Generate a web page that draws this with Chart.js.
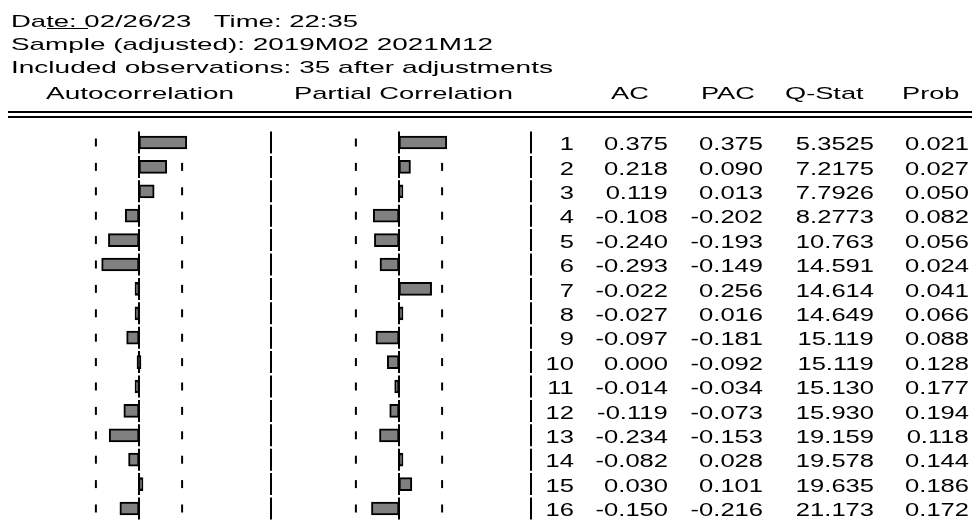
<!DOCTYPE html>
<html>
<head>
<meta charset="utf-8">
<script src="https://cdn.jsdelivr.net/npm/chart.js@4.4.0/dist/chart.umd.min.js"></script>
<style>
  body { margin: 0; background: #fff; }
  #wrap { position: relative; width: 972px; height: 524px; overflow: hidden; font-family: "Liberation Sans", Arial, sans-serif; color: #000; }
  #corr { position: absolute; left: 0; top: 0; }
  .hd, .colhd { position: absolute; font-size: 17px; line-height: 17px; white-space: pre; transform-origin: left center; }
  .cell { position: absolute; font-size: 18px; line-height: 18px; white-space: pre; transform-origin: right center; }
  .rule { position: absolute; left: 8px; width: 964px; top: 111px; height: 2.5px; border-top: 2px solid #000; border-bottom: 2px solid #000; }
  .uline { position: absolute; left: 47px; top: 28px; width: 41px; height: 1px; background: #000; }
</style>
</head>
<body>
<div id="wrap">
  <canvas id="corr" width="972" height="524"></canvas>
  <div class="hd" data-x="11" data-base="27" data-w="347">Date: 02/26/23   Time: 22:35</div>
  <div class="uline"></div>
  <div class="hd" data-x="11" data-base="50" data-w="482">Sample (adjusted): 2019M02 2021M12</div>
  <div class="hd" data-x="11" data-base="73.5" data-w="542">Included observations: 35 after adjustments</div>
  <div class="hd" data-x="46" data-base="99" data-w="188">Autocorrelation</div>
  <div class="hd" data-x="294" data-base="99" data-w="219">Partial Correlation</div>
  <div class="colhd" data-c="630" data-base="99">AC</div>
  <div class="colhd" data-c="728" data-base="99">PAC</div>
  <div class="colhd" data-c="824" data-base="99">Q-Stat</div>
  <div class="colhd" data-c="931" data-base="99">Prob</div>
  <div class="rule"></div>
</div>
<script>
var lags = [1, 2, 3, 4, 5, 6, 7, 8, 9, 10, 11, 12, 13, 14, 15, 16];
var acValues = [0.375, 0.218, 0.119, -0.108, -0.240, -0.293, -0.022, -0.027, -0.097, 0.000, -0.014, -0.119, -0.234, -0.082, 0.030, -0.150];
var pacValues = [0.375, 0.090, 0.013, -0.202, -0.193, -0.149, 0.256, 0.016, -0.181, -0.092, -0.034, -0.073, -0.153, 0.028, 0.101, -0.216];
var qStat = [5.3525, 7.2175, 7.7926, 8.2773, 10.763, 14.591, 14.614, 14.649, 15.119, 15.119, 15.130, 15.930, 19.159, 19.578, 19.635, 21.173];
var probValues = [0.021, 0.027, 0.050, 0.082, 0.056, 0.024, 0.041, 0.066, 0.088, 0.128, 0.177, 0.194, 0.118, 0.144, 0.186, 0.172];
var nObs = 35;

// layout
var W = 972;
var PX_PER_UNIT = 127.5;
var AC_ZERO = 139, PAC_ZERO = 399;
var SEPARATORS = [271, 531];
var bound = 2 / Math.sqrt(nObs);

// header text: stretch each line to the width it has in the EViews output
document.querySelectorAll('.hd').forEach(function(el){
	var natural = el.getBoundingClientRect().width;
	el.style.left = el.dataset.x + 'px';
	el.style.top = (parseFloat(el.dataset.base) - 14.4) + 'px';
	el.style.transform = 'scaleX(' + (parseFloat(el.dataset.w) / natural) + ')';
});
document.querySelectorAll('.colhd').forEach(function(el){
	var sx = 1.6;
	var w = el.getBoundingClientRect().width * sx;
	el.style.left = (parseFloat(el.dataset.c) - w / 2) + 'px';
	el.style.top = (parseFloat(el.dataset.base) - 14.4) + 'px';
	el.style.transform = 'scaleX(' + sx + ')';
});

var corrLines = {
	id: 'corrLines',
	beforeDatasetsDraw: function(chart) {
		var ctx = chart.ctx, s = chart.scales;
		ctx.save();
		ctx.strokeStyle = '#000';
		ctx.lineWidth = 2;
		function seg(x, yc, h) {
			ctx.beginPath();
			ctx.moveTo(x, yc - h);
			ctx.lineTo(x, yc + h);
			ctx.stroke();
		}
		lags.forEach(function(lag, i){
			var yc = s.y.getPixelForValue(i);
			SEPARATORS.forEach(function(x){ seg(x, yc, 11); });
			seg(s.xa.getPixelForValue(0), yc, 11);
			seg(s.xp.getPixelForValue(0), yc, 11);
			[-bound, bound].forEach(function(b){
				seg(s.xa.getPixelForValue(b), yc, 4);
				seg(s.xp.getPixelForValue(b), yc, 4);
			});
		});
		ctx.restore();
	}
};

var barStyle = {
	backgroundColor: '#808080',
	borderColor: '#000',
	borderWidth: 2,
	borderSkipped: false,
	barThickness: 13,
	minBarLength: 4,
	grouped: false
};

var config = {
	type: 'bar',
	data: {
		labels: lags,
		datasets: [
			Object.assign({ label: 'AC', data: acValues, xAxisID: 'xa' }, barStyle),
			Object.assign({ label: 'PAC', data: pacValues, xAxisID: 'xp' }, barStyle)
		]
	},
	options: {
		indexAxis: 'y',
		responsive: false,
		devicePixelRatio: 1,
		animation: false,
		events: [],
		layout: { padding: { top: 130.3, bottom: 3.3, left: 0, right: 0 } },
		plugins: { legend: { display: false }, tooltip: { enabled: false } },
		scales: {
			y: { type: 'category', display: false, offset: true },
			xa: { type: 'linear', axis: 'x', display: false, min: -AC_ZERO / PX_PER_UNIT, max: (W - AC_ZERO) / PX_PER_UNIT },
			xp: { type: 'linear', axis: 'x', display: false, min: -PAC_ZERO / PX_PER_UNIT, max: (W - PAC_ZERO) / PX_PER_UNIT }
		}
	},
	plugins: [corrLines]
};

var chart = new Chart(document.getElementById('corr').getContext('2d'), config);

// numeric table, rows placed on the chart's own category scale
var wrap = document.getElementById('wrap');
var columns = [
	{ right: 574, vals: lags.map(String) },
	{ right: 668, vals: acValues.map(function(v){ return v.toFixed(3); }) },
	{ right: 763, vals: pacValues.map(function(v){ return v.toFixed(3); }) },
	{ right: 874, vals: qStat.map(function(v){ return v.toPrecision(5); }) },
	{ right: 969, vals: probValues.map(function(v){ return v.toFixed(3); }) }
];
lags.forEach(function(lag, i){
	var yc = chart.scales.y.getPixelForValue(i);
	columns.forEach(function(col){
		var d = document.createElement('div');
		d.className = 'cell';
		d.textContent = col.vals[i];
		d.style.right = (W - col.right) + 'px';
		d.style.top = (yc - 7.3) + 'px';
		d.style.transform = 'scaleX(1.42)';
		wrap.appendChild(d);
	});
});
</script>
</body>
</html>
